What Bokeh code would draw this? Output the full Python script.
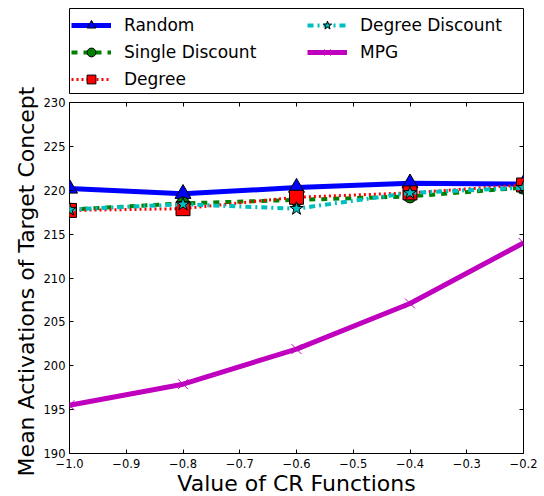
from math import pi
from bokeh.plotting import figure
from bokeh.models import (Legend, LegendItem, LinearAxis, Range1d, FixedTicker,
                          CustomJSTickFormatter, Label)
from bokeh.layouts import column, row
from bokeh.embed import file_html
from bokeh.resources import INLINE

x = [-1.0, -0.8, -0.6, -0.4, -0.2]
random_vals = [220.2, 219.6, 220.3, 220.8, 220.7]
single_discount = [217.8, 218.5, 218.9, 219.3, 220.3]
degree = [217.7, 217.9, 219.2, 219.7, 220.6]
degree_discount = [217.8, 218.4, 217.9, 219.7, 220.3]
mpg = [195.5, 197.9, 201.9, 207.1, 214.0]

x_ticks = [-1.0, -0.9, -0.8, -0.7, -0.6, -0.5, -0.4, -0.3, -0.2]
y_ticks = [190, 195, 200, 205, 210, 215, 220, 225, 230]

x_label = "Value of CR Functions"
y_label = "Mean Activations of Target Concept"

FONT = "DejaVu Sans"
LEFT_W = 40

series = [
    ("Random", random_vals, "#0000ff", "solid", 5, "triangle", 16),
    ("Single Discount", single_discount, "#008000", "6 6", 4, "circle", 13),
    ("Degree", degree, "#ff0000", "2 3", 3, "square", 14),
    ("Degree Discount", degree_discount, "#00bfbf", "6 4 2 4", 4, "star", 14),
    ("MPG", mpg, "#bf00bf", "solid", 5, "x", 14),
]


def draw(fig):
    out = []
    for name, vals, color, dash, lw, marker, size in series:
        r1 = fig.line(x, vals, line_color=color, line_width=lw, line_dash=dash)
        if marker == "x":
            r2 = fig.scatter(x, vals, marker="x", size=size, line_color=color, line_width=1)
        else:
            r2 = fig.scatter(x, vals, marker=marker, size=size, fill_color=color,
                             line_color="black", line_width=1)
        out.append(LegendItem(label=name, renderers=[r1, r2]))
    return out


# ---------------- main plot ----------------
p = figure(output_backend="svg", toolbar_location=None,
           x_range=Range1d(-1.0, -0.2), y_range=Range1d(190, 230),
           frame_width=454, frame_height=351,
           min_border_left=67 - LEFT_W, min_border_right=23, min_border_top=8,
           min_border_bottom=0)
p.grid.visible = False
p.outline_line_color = "black"
p.outline_line_width = 1
p.background_fill_color = "white"
p.border_fill_color = "white"

minus_fmt_x = CustomJSTickFormatter(code="return tick.toFixed(1).replace('-', '\u2212');")
minus_fmt_y = CustomJSTickFormatter(code="return tick.toFixed(0).replace('-', '\u2212');")

for ax in p.xaxis:
    ax.ticker = FixedTicker(ticks=x_ticks)
    ax.formatter = minus_fmt_x
for ax in p.yaxis:
    ax.ticker = FixedTicker(ticks=y_ticks)
    ax.formatter = minus_fmt_y

for ax in list(p.xaxis) + list(p.yaxis):
    ax.major_tick_in = 4
    ax.major_tick_out = 0
    ax.minor_tick_in = 0
    ax.minor_tick_out = 0
    ax.axis_line_color = None
    ax.major_tick_line_color = "black"
    ax.major_label_text_font = FONT
    ax.major_label_text_font_size = "11.5px"
    ax.major_label_text_color = "black"
    ax.axis_label_text_font = FONT
    ax.axis_label_text_font_size = "22px"
    ax.axis_label_text_font_style = "normal"
    ax.axis_label_text_color = "black"

p.xaxis.axis_label = x_label
p.xaxis.major_label_standoff = 5
p.yaxis.major_label_standoff = 4
p.xaxis.axis_label_standoff = 0

empty_fmt = CustomJSTickFormatter(code="return '';")
for side, ticks in (("right", y_ticks), ("above", x_ticks)):
    a = LinearAxis(ticker=FixedTicker(ticks=ticks), formatter=empty_fmt)
    a.major_label_standoff = 0
    a.major_tick_in = 4
    a.major_tick_out = 0
    a.minor_tick_in = 0
    a.minor_tick_out = 0
    a.axis_line_color = None
    p.add_layout(a, side)

draw(p)

# ---------------- legend panel ----------------
lf = figure(output_backend="svg", toolbar_location=None,
            x_range=Range1d(0, 1), y_range=Range1d(0, 1),
            frame_width=454, frame_height=86,
            min_border_left=67 - LEFT_W, min_border_right=23, min_border_top=8,
            min_border_bottom=0)
lf.axis.visible = False
lf.grid.visible = False
lf.outline_line_color = "black"
lf.outline_line_width = 1
lf.border_fill_color = "white"
lf.background_fill_color = "white"

litems = draw(lf)

common = dict(label_text_font=FONT, label_text_font_size="17px",
              label_text_color="black",
              glyph_width=40, glyph_height=22, label_height=22,
              label_standoff=13, spacing=5, padding=5, margin=0,
              border_line_color=None, background_fill_alpha=0)
legA = Legend(items=litems[:3], location=(2, 4), **common)
legB = Legend(items=litems[3:], location=(238, 31), **common)
lf.add_layout(legA, "center")
lf.add_layout(legB, "center")

# ---------------- y label panel ----------------
yf = figure(output_backend="svg", toolbar_location=None,
            x_range=Range1d(0, LEFT_W), y_range=Range1d(0, 496),
            frame_width=LEFT_W, frame_height=496,
            min_border_left=0, min_border_right=0, min_border_top=0, min_border_bottom=0)
yf.axis.visible = False
yf.grid.visible = False
yf.outline_line_color = None
yf.border_fill_color = "white"
yf.background_fill_color = "white"
yf.add_layout(Label(x=26, y=496 - 281, text=y_label, angle=pi / 2,
                    text_align="center", text_baseline="middle",
                    text_font=FONT, text_font_size="22px", text_color="black"))

layout = row(yf, column(lf, p, spacing=0), spacing=0)
open("out.html", "w").write(file_html(layout, INLINE))
